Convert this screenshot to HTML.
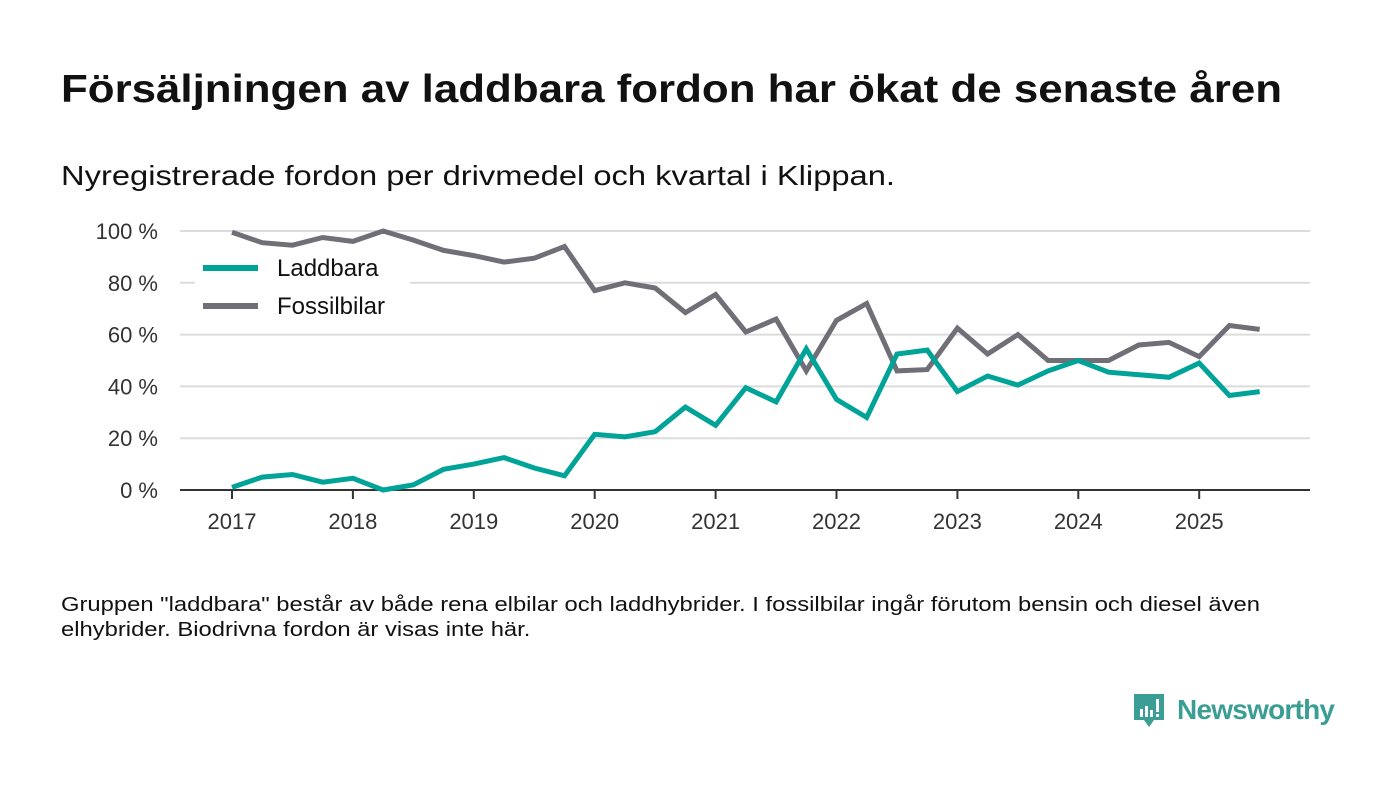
<!DOCTYPE html>
<html><head><meta charset="utf-8">
<style>
body{margin:0;width:1400px;height:793px;background:#fff;font-family:"Liberation Sans","DejaVu Sans",sans-serif;color:#111;position:relative;overflow:hidden}
.fit{transform-origin:0 0;white-space:nowrap}
#title{position:absolute;left:61px;top:68px;font-size:39px;font-weight:bold;margin:0}
#sub{position:absolute;left:61px;top:160px;font-size:28px;margin:0}
#note{position:absolute;left:61px;top:593px;font-size:20px;line-height:25px;margin:0}
#logo{position:absolute;left:1132px;top:692px}
svg text{font-family:"Liberation Sans","DejaVu Sans",sans-serif}
</style></head><body>
<h1 id="title" class="fit">Försäljningen av laddbara fordon har ökat de senaste åren</h1>
<p id="sub" class="fit">Nyregistrerade fordon per drivmedel och kvartal i Klippan.</p>
<svg id="chart" width="1400" height="793" style="position:absolute;left:0;top:0"></svg>
<p id="note" class="fit">Gruppen "laddbara" består av både rena elbilar och laddhybrider. I fossilbilar ingår förutom bensin och diesel även<br>elhybrider. Biodrivna fordon är visas inte här.</p>
<div id="logo">
<svg width="210" height="44">
<path d="M2 2h30v26h-10l-5 7-5-7H2z" fill="#3a9e94"/>
<rect x="8" y="17" width="3" height="8" fill="#fff"/><rect x="13" y="14" width="3" height="11" fill="#fff"/><rect x="18" y="18" width="3" height="7" fill="#fff"/><rect x="24" y="7" width="3" height="13" fill="#fff"/><rect x="24" y="22" width="3" height="3" fill="#fff"/>
<text x="45" y="27" font-size="28" font-weight="bold" fill="#3a9e94" textLength="158">Newsworthy</text>
</svg></div>
<script>
const years=[2017,2018,2019,2020,2021,2022,2023,2024,2025];
const yTicks=[0,20,40,60,80,100];
const laddbara=[1,5,6,3,4.5,0,2,8,10,12.5,8.5,5.5,21.5,20.5,22.5,32,25,39.5,34,54.5,35,28,52.5,54,38,44,40.5,46,50,45.5,44.5,43.5,49,36.5,38];
const fossil=[99.5,95.5,94.5,97.5,96,100,96.5,92.5,90.5,88,89.5,94,77,80,78,68.5,75.5,61,66,46,65.5,72,46,46.5,62.5,52.5,60,50,50,50,56,57,51.5,63.5,62];
function fit(id,w){const e=document.getElementById(id);e.style.display='inline-block';const cw=e.getBoundingClientRect().width;e.style.transform='scaleX('+(w/cw)+')';}
fit('title',1221);fit('sub',834);fit('note',1199);
const svg=document.getElementById('chart');const NS='http://www.w3.org/2000/svg';
const x=t=>232+(t-2017)*120.9;
const y=v=>490-v*2.59;
function mk(tag,attrs,parent){const e=document.createElementNS(NS,tag);for(const k in attrs)e.setAttribute(k,attrs[k]);(parent||svg).appendChild(e);return e;}
yTicks.forEach(v=>{
 if(v>0){const g=mk('line',{x1:180,x2:1310,y1:y(v),y2:y(v),stroke:'#dcdcdc','stroke-width':2});
 
 }
 const t=mk('text',{x:158,y:y(v)+8,'font-size':22,'text-anchor':'end',fill:'#333'});t.textContent=v+' %';
 
 
});
const ax=mk('line',{x1:180,x2:1310,y1:490,y2:490,stroke:'#333','stroke-width':2});


years.forEach(yr=>{
 mk('line',{x1:x(yr),x2:x(yr),y1:490,y2:499,stroke:'#333','stroke-width':2});
 const t=mk('text',{x:x(yr),y:529,'font-size':22,'text-anchor':'middle',fill:'#333'});t.textContent=yr;
 
 
});
function line(arr,color,name){
 const d=arr.map((v,i)=>(i?'L':'M')+x(2017+i/4).toFixed(1)+' '+y(v).toFixed(1)).join(' ');
 const p=mk('path',{d:d,fill:'none',stroke:color,'stroke-width':5,'stroke-linejoin':'miter'});
 
 
}
mk('rect',{x:195,y:252,width:215,height:72,fill:'#fff'});
line(fossil,'#706f77','fossilbilar-line');
line(laddbara,'#00a398','laddbara-line');
[['Laddbara','#00a398',268],['Fossilbilar','#706f77',306]].forEach(([n,c,yy])=>{
 mk('line',{x1:203,x2:258,y1:yy,y2:yy,stroke:c,'stroke-width':6});
 const t=mk('text',{x:277,y:yy+8,'font-size':24,fill:'#111'});t.textContent=n;
 
 
});
</script>
</body></html>
